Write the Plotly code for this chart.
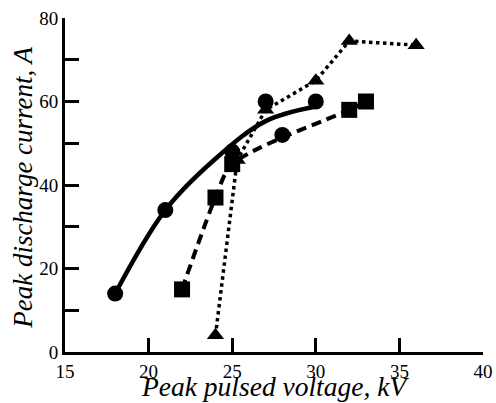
import plotly.graph_objects as go

# Circles (measured points) and fitted solid curve
circle_x = [18, 21, 25, 27, 28, 30]
circle_y = [14, 34, 48, 60, 52, 60]
fit_x = [18, 21, 24, 27, 30]
fit_y = [14, 34, 46.3, 55.3, 58.8]

# Squares (dashed)
square_x = [22, 24, 25, 32, 33]
square_y = [15, 37, 45, 58, 60]

# Triangles (dotted)
tri_x = [24, 25.3, 27, 30, 32, 36]
tri_y = [4, 46, 58, 65, 74.5, 73.5]

x_ticks = [15, 20, 25, 30, 35, 40]
y_ticks = [0, 20, 40, 60, 80]

x_title = "Peak pulsed voltage, kV"
y_title = "Peak discharge current, A"

fig = go.Figure()

fig.add_trace(go.Scatter(x=tri_x, y=tri_y, mode="lines+markers",
                         line=dict(color="black", width=3.5, dash="dot"),
                         marker=dict(symbol="triangle-up", size=15, color="black")))
fig.add_trace(go.Scatter(x=square_x, y=square_y, mode="lines+markers",
                         line=dict(color="black", width=4, dash="10px,6px", shape="spline", smoothing=0.8),
                         marker=dict(symbol="square", size=16, color="black")))
fig.add_trace(go.Scatter(x=fit_x, y=fit_y, mode="lines",
                         line=dict(color="black", width=4.5, shape="spline", smoothing=1.0)))
fig.add_trace(go.Scatter(x=circle_x, y=circle_y, mode="markers",
                         marker=dict(symbol="circle", size=16, color="black")))

serif = "Liberation Serif"

fig.update_layout(
    width=496, height=403,
    margin=dict(l=65, r=13, t=18, b=51, autoexpand=False),
    paper_bgcolor="white", plot_bgcolor="white",
    showlegend=False,
    font=dict(family=serif, color="black", size=19),
    annotations=[
        dict(text=x_title, xref="paper", yref="paper", x=0.502, y=-0.103,
             xanchor="center", yanchor="middle", showarrow=False,
             font=dict(family=serif, size=27.5, style="italic", color="black")),
        dict(text=y_title, xref="paper", yref="paper", x=-0.0993, y=0.493,
             xanchor="center", yanchor="middle", showarrow=False, textangle=-90,
             font=dict(family=serif, size=27, style="italic", color="black")),
    ],
)
fig.update_xaxes(
    range=[15, 40], tickvals=x_ticks, ticktext=[str(v) for v in x_ticks],
    ticks="inside", ticklen=14, tickwidth=3, tickcolor="black",
    showline=True, linewidth=3, linecolor="black",
    showgrid=False, zeroline=False, automargin=False,
    tickfont=dict(family=serif, size=19, color="black"),
)
fig.update_yaxes(
    range=[0, 80], tickvals=y_ticks, ticktext=[str(v) for v in y_ticks],
    ticks="inside", ticklen=14, tickwidth=3, tickcolor="black",
    minor=dict(dtick=10, tick0=0, ticks="inside", ticklen=14, tickwidth=3, tickcolor="black"),
    showline=True, linewidth=3, linecolor="black",
    showgrid=False, zeroline=False, automargin=False,
    tickfont=dict(family=serif, size=19, color="black"),
)

fig.write_html("out.html", config={"displayModeBar": False},
               post_script="document.body.style.margin='0';")
